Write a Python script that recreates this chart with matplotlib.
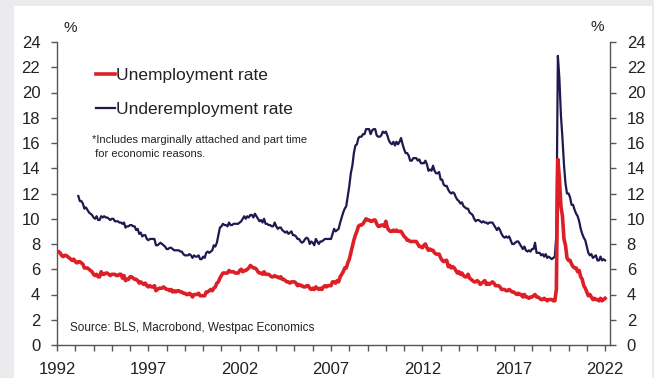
import numpy as np
import matplotlib
matplotlib.use("Agg")
import matplotlib.pyplot as plt
from matplotlib.patches import Rectangle

plt.rcParams['font.family'] = ['Liberation Sans', 'DejaVu Sans']

# monthly values, first point drawn at the 1992 tick (axis x is in years)
unemp_start = 1992.0
unemployment = [
    7.4, 7.4,
    7.3, 7.1, 7.0, 7.1, 7.1, 7.0, 6.9, 6.8, 6.7, 6.8, 6.6, 6.5,
    6.6, 6.6, 6.5, 6.4, 6.1, 6.1, 6.1, 6.0, 5.9, 5.8, 5.6, 5.5,
    5.6, 5.4, 5.4, 5.8, 5.6, 5.6, 5.7, 5.7, 5.6, 5.5, 5.6, 5.6,
    5.6, 5.5, 5.5, 5.6, 5.6, 5.3, 5.5, 5.1, 5.2, 5.2, 5.4, 5.4,
    5.3, 5.2, 5.2, 5.1, 4.9, 5.0, 4.9, 4.8, 4.9, 4.7, 4.6, 4.7,
    4.6, 4.6, 4.7, 4.3, 4.4, 4.5, 4.5, 4.5, 4.6, 4.5, 4.4, 4.4,
    4.3, 4.4, 4.2, 4.3, 4.2, 4.3, 4.3, 4.2, 4.2, 4.1, 4.1, 4.0,
    4.0, 4.1, 4.0, 3.8, 4.0, 4.0, 4.0, 4.1, 3.9, 3.9, 3.9, 3.9,
    4.2, 4.2, 4.3, 4.4, 4.3, 4.5, 4.6, 4.9, 5.0, 5.3, 5.5, 5.7,
    5.7, 5.7, 5.7, 5.9, 5.8, 5.8, 5.8, 5.7, 5.7, 5.7, 5.9, 6.0,
    5.8, 5.9, 5.9, 6.0, 6.1, 6.3, 6.2, 6.1, 6.1, 6.0, 5.8, 5.7,
    5.7, 5.6, 5.8, 5.6, 5.6, 5.6, 5.5, 5.4, 5.4, 5.5, 5.4, 5.4,
    5.3, 5.4, 5.2, 5.2, 5.1, 5.0, 5.0, 4.9, 5.0, 5.0, 5.0, 4.9,
    4.7, 4.8, 4.7, 4.7, 4.6, 4.6, 4.7, 4.7, 4.5, 4.4, 4.5, 4.4,
    4.6, 4.5, 4.4, 4.5, 4.4, 4.6, 4.7, 4.6, 4.7, 4.7, 4.7, 5.0,
    5.0, 4.9, 5.1, 5.0, 5.4, 5.6, 5.8, 6.1, 6.1, 6.5, 6.8, 7.3,
    7.8, 8.3, 8.7, 9.0, 9.4, 9.5, 9.5, 9.6, 9.8, 10.0, 9.9, 9.9,
    9.8, 9.8, 9.9, 9.9, 9.6, 9.4, 9.4, 9.5, 9.5, 9.4, 9.8, 9.3,
    9.1, 9.0, 9.0, 9.1, 9.0, 9.1, 9.0, 9.0, 9.0, 8.8, 8.6, 8.5,
    8.3, 8.3, 8.2, 8.2, 8.2, 8.2, 8.2, 8.0, 7.8, 7.8, 7.7, 7.9,
    8.0, 7.7, 7.5, 7.6, 7.5, 7.5, 7.3, 7.2, 7.2, 7.2, 6.9, 6.7,
    6.6, 6.7, 6.7, 6.2, 6.3, 6.1, 6.2, 6.1, 5.9, 5.7, 5.8, 5.6,
    5.7, 5.5, 5.4, 5.4, 5.6, 5.3, 5.2, 5.1, 5.0, 5.0, 5.1, 5.0,
    4.8, 4.9, 5.0, 5.1, 4.8, 4.9, 4.8, 4.9, 5.0, 4.9, 4.7, 4.7,
    4.7, 4.6, 4.4, 4.4, 4.4, 4.3, 4.3, 4.4, 4.3, 4.2, 4.2, 4.1,
    4.0, 4.1, 4.0, 4.0, 3.8, 4.0, 3.8, 3.8, 3.7, 3.8, 3.8, 3.9,
    4.0, 3.8, 3.8, 3.7, 3.6, 3.6, 3.7, 3.6, 3.5, 3.6, 3.6, 3.6,
    3.5, 3.5, 4.4, 14.7, 13.2, 11.0, 10.2, 8.4, 7.9, 6.9, 6.7, 6.7,
    6.4, 6.2, 6.1, 6.1, 5.8, 5.9, 5.4, 5.2, 4.7, 4.5, 4.2, 3.9,
    4.0, 3.8, 3.6, 3.7, 3.6, 3.6, 3.5, 3.7, 3.5, 3.6, 3.7,
]

underemp_start = 1992.0 + 14 / 12
underemployment = [
    11.8, 11.4, 11.4, 11.2, 10.8, 10.9, 10.7, 10.5, 10.4, 10.3, 10.1, 10.0,
    10.2, 9.9, 9.9, 10.2, 10.1, 10.2, 10.1, 10.1, 10.0, 9.9, 10.0, 10.0,
    9.8, 9.8, 9.8, 9.7, 9.7, 9.6, 9.7, 9.3, 9.4, 9.4, 9.5, 9.5,
    9.4, 9.4, 9.1, 9.2, 8.8, 8.9, 8.6, 8.7, 8.7, 8.4, 8.3, 8.4,
    8.4, 8.4, 8.4, 7.9, 7.9, 8.0, 8.1, 8.0, 7.9, 7.8, 7.6, 7.6,
    7.7, 7.7, 7.6, 7.5, 7.5, 7.5, 7.5, 7.4, 7.4, 7.2, 7.1, 7.1,
    7.1, 7.2, 7.1, 6.9, 7.1, 7.0, 7.0, 7.1, 6.8, 6.8, 7.0, 6.9,
    7.3, 7.4, 7.3, 7.4, 7.5, 7.9, 7.8, 8.1, 8.7, 9.3, 9.4, 9.6,
    9.5, 9.5, 9.4, 9.7, 9.5, 9.5, 9.6, 9.6, 9.6, 9.6, 9.7, 9.8,
    10.0, 10.2, 10.0, 10.2, 10.1, 10.3, 10.3, 10.1, 10.4, 10.2, 10.0, 9.8,
    9.9, 9.7, 10.0, 9.6, 9.6, 9.5, 9.5, 9.4, 9.4, 9.7, 9.4, 9.2,
    9.3, 9.3, 9.1, 9.0, 8.9, 9.0, 8.8, 8.9, 9.0, 8.7, 8.7, 8.6,
    8.4, 8.4, 8.2, 8.1, 8.2, 8.4, 8.5, 8.4, 8.0, 8.2, 8.1, 7.9,
    8.4, 8.2, 8.0, 8.2, 8.2, 8.3, 8.4, 8.4, 8.4, 8.4, 8.4, 8.8,
    9.2, 9.0, 9.1, 9.2, 9.7, 10.1, 10.5, 10.8, 11.0, 11.8, 12.6, 13.6,
    14.2, 15.2, 15.8, 15.9, 16.4, 16.5, 16.5, 16.7, 16.7, 17.1, 17.1, 17.1,
    16.7, 17.0, 17.1, 17.1, 16.6, 16.5, 16.5, 16.6, 16.9, 16.8, 16.9, 16.6,
    16.2, 16.0, 15.9, 16.1, 15.8, 16.1, 15.9, 16.1, 16.4, 15.9, 15.5, 15.2,
    15.2, 15.0, 14.6, 14.6, 14.8, 14.8, 14.8, 14.6, 14.7, 14.4, 14.4, 14.4,
    14.6, 14.3, 13.8, 13.9, 13.8, 14.2, 13.8, 13.6, 13.6, 13.7, 13.1, 13.1,
    12.7, 12.6, 12.6, 12.3, 12.1, 12.0, 12.1, 12.0, 11.7, 11.5, 11.4, 11.2,
    11.3, 11.0, 10.9, 10.8, 10.8, 10.5, 10.4, 10.3, 10.0, 9.8, 9.9, 9.9,
    9.8, 9.7, 9.8, 9.7, 9.7, 9.6, 9.7, 9.7, 9.7, 9.5, 9.3, 9.1,
    9.3, 9.1, 8.8, 8.6, 8.5, 8.6, 8.5, 8.6, 8.3, 8.0, 8.0, 8.1,
    8.2, 8.2, 8.0, 7.8, 7.6, 7.8, 7.5, 7.4, 7.5, 7.4, 7.6, 7.6,
    8.1, 7.3, 7.3, 7.3, 7.1, 7.2, 7.0, 7.2, 6.9, 7.0, 6.9, 6.8,
    6.9, 7.0, 8.7, 22.9, 21.1, 18.2, 16.4, 14.3, 12.8, 12.0, 12.0, 11.7,
    11.1, 11.1, 10.7, 10.4, 10.2, 9.8, 9.2, 8.8, 8.5, 8.3, 7.8, 7.3,
    7.1, 7.2, 6.9, 7.0, 7.1, 6.7, 6.7, 7.0, 6.7, 6.8, 6.7,
]

year_ticks = [1992, 1997, 2002, 2007, 2012, 2017, 2022]
y_ticks = list(range(0, 25, 2))

red = '#dd1f27'
navy = '#1c1a4e'
txt = '#222222'

fig = plt.figure(figsize=(6.54, 3.78), dpi=100, facecolor='#ebebed')
fig.patches.append(Rectangle((14 / 654, 0), 638 / 654, 372 / 378,
                             transform=fig.transFigure, facecolor='white',
                             edgecolor='none', zorder=-5))
ax = fig.add_axes([57 / 654, 33 / 378, 553 / 654, 303 / 378])
ax.set_facecolor('none')

x_u = unemp_start + np.arange(len(unemployment)) / 12
x_ue = underemp_start + np.arange(len(underemployment)) / 12
ax.plot(x_u, unemployment, color=red, lw=2.6, label='Unemployment rate', zorder=3)
ax.plot(x_ue, underemployment, color=navy, lw=1.6, label='Underemployment rate', zorder=2)

ax.set_xlim(1992, 2022.27)
ax.set_ylim(0, 24)
ax.set_xticks(year_ticks)
ax.set_xticks(range(1992, 2023), minor=True)
ax.set_yticks(y_ticks)

ax.spines['top'].set_visible(False)
for s in ['left', 'right', 'bottom']:
    ax.spines[s].set_color('#555555')
    ax.spines[s].set_linewidth(1.0)

ax.tick_params(axis='x', which='both', direction='out', length=4, width=1,
               color='#555555', labelsize=12, labelcolor=txt, pad=8)
ax.tick_params(axis='y', direction='out', length=4, width=1, color='#555555',
               labelsize=12, labelcolor=txt, pad=8, left=True, right=True,
               labelleft=True, labelright=True)

fig.text(70 / 654, 1 - 28 / 378, '%', fontsize=11, color=txt, ha='center', va='center')
fig.text(597 / 654, 1 - 27 / 378, '%', fontsize=11, color=txt, ha='center', va='center')

leg = ax.legend(loc='upper left', bbox_to_anchor=(39 / 553, 1 - 26 / 303),
                frameon=False, fontsize=12.5, handlelength=1.1, handletextpad=0.05,
                labelspacing=1.08, borderpad=0, borderaxespad=0)
for t in leg.get_texts():
    t.set_color(txt)
for l, w in zip(leg.get_lines(), [2.6, 1.6]):
    l.set_linewidth(w)

fig.text(92 / 654, 1 - 147 / 378,
         '*Includes marginally attached and part time\n for economic reasons.',
         fontsize=8, color=txt, ha='left', va='center', linespacing=1.4)
fig.text(70 / 654, 1 - 328 / 378, 'Source: BLS, Macrobond, Westpac Economics',
         fontsize=8.5, color=txt, ha='left', va='center')

fig.savefig('out.png', dpi=100, facecolor=fig.get_facecolor())
